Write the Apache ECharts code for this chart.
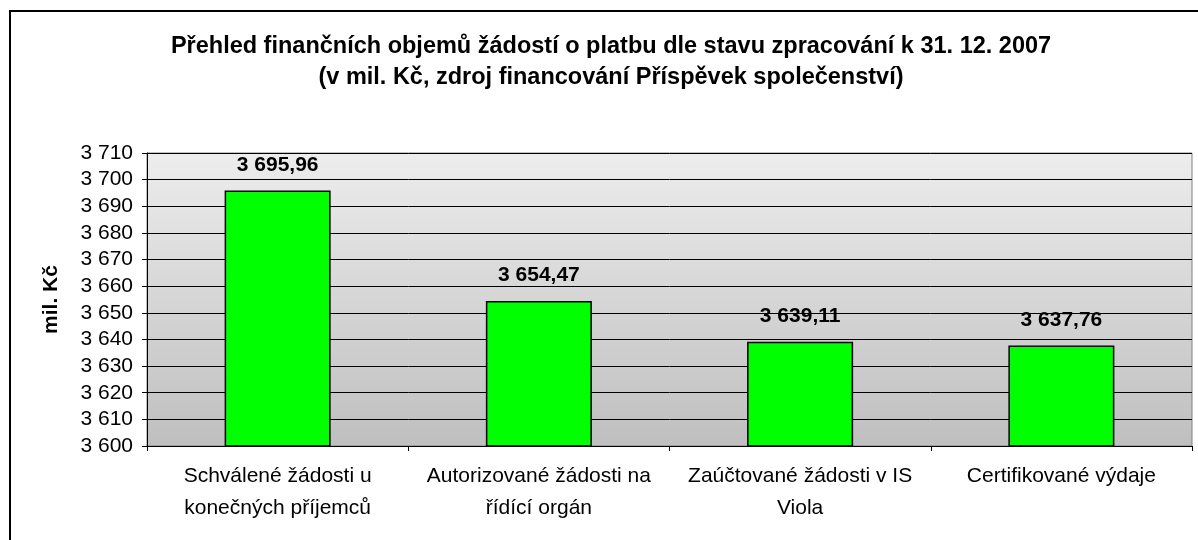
<!DOCTYPE html>
<html>
<head>
<meta charset="utf-8">
<script src="https://cdn.jsdelivr.net/npm/echarts@6/dist/echarts.min.js"></script>
<style>
  html, body { margin: 0; padding: 0; background: #fff; }
  #chart { width: 1198px; height: 540px; }
</style>
</head>
<body>
<div id="chart"></div>
<script>
// data
const categories = [
  'Schválené žádosti u\nkonečných příjemců',
  'Autorizované žádosti na\nřídící orgán',
  'Zaúčtované žádosti v IS\nViola',
  'Certifikované výdaje'
]
const values = [3695.96, 3654.47, 3639.11, 3637.76]
const yMin = 3600
const yMax = 3710
const yStep = 10

const fontFamily = '"Liberation Sans", Arial, sans-serif'

// "3 695,96" style
const fmtValue = v => {
  const [i, d] = v.toFixed(2).split('.')
  return i.replace(/\B(?=(\d{3})+(?!\d))/g, ' ') + ',' + d
}
const fmtTick = v => String(v).replace(/\B(?=(\d{3})+(?!\d))/g, ' ')

const chart = echarts.init(document.getElementById('chart'))

const option = {
  backgroundColor: '#fff',
  animation: false,
  title: {
    text: 'Přehled finančních objemů žádostí o platbu dle stavu zpracování k 31. 12. 2007\n(v mil. Kč, zdroj financování Příspěvek společenství)',
    left: 611,
    top: 31,
    padding: 0,
    textAlign: 'center',
    textStyle: {
      fontFamily,
      fontSize: 23.5,
      fontWeight: 'bold',
      color: '#000',
      lineHeight: 31
    }
  },
  graphic: [{
    type: 'rect',
    shape: { x: 10, y: 11, width: 1200, height: 540 },
    style: { fill: 'none', stroke: '#000', lineWidth: 2 },
    silent: true
  }],
  grid: {
    left: 147,
    right: 6,
    top: 153,
    bottom: 94,
    show: true,
    borderColor: '#808080',
    borderWidth: 1,
    backgroundColor: new echarts.graphic.LinearGradient(0, 0, 0, 1, [
      { offset: 0, color: '#ededed' },
      { offset: 1, color: '#bfbfbf' }
    ])
  },
  xAxis: {
    type: 'category',
    data: categories,
    axisLine: { lineStyle: { color: '#000', width: 1 } },
    axisTick: { show: true, alignWithLabel: false, length: 5, lineStyle: { color: '#000' } },
    axisLabel: {
      fontFamily,
      fontSize: 21,
      color: '#000',
      lineHeight: 32,
      margin: 14,
      interval: 0
    }
  },
  yAxis: {
    type: 'value',
    name: 'mil. Kč',
    nameLocation: 'middle',
    nameGap: 85,
    nameRotate: 90,
    nameTextStyle: { fontFamily, fontSize: 21, fontWeight: 'bold', color: '#000' },
    min: yMin,
    max: yMax,
    interval: yStep,
    axisLine: { show: true, lineStyle: { color: '#000', width: 1 } },
    axisTick: { show: true, inside: false, length: 5, lineStyle: { color: '#000' } },
    splitLine: { show: true, lineStyle: { color: '#000', width: 1 } },
    axisLabel: {
      fontFamily,
      fontSize: 21,
      color: '#000',
      margin: 14,
      formatter: fmtTick
    }
  },
  series: [{
    type: 'bar',
    data: values,
    barWidth: 106,
    itemStyle: { color: '#00ff00', borderColor: '#000', borderWidth: 1.5 },
    label: {
      show: true,
      position: 'top',
      distance: 15,
      fontFamily,
      fontSize: 21,
      fontWeight: 'bold',
      color: '#000',
      formatter: p => fmtValue(p.value)
    }
  }]
}

chart.setOption(option)
</script>
</body>
</html>
